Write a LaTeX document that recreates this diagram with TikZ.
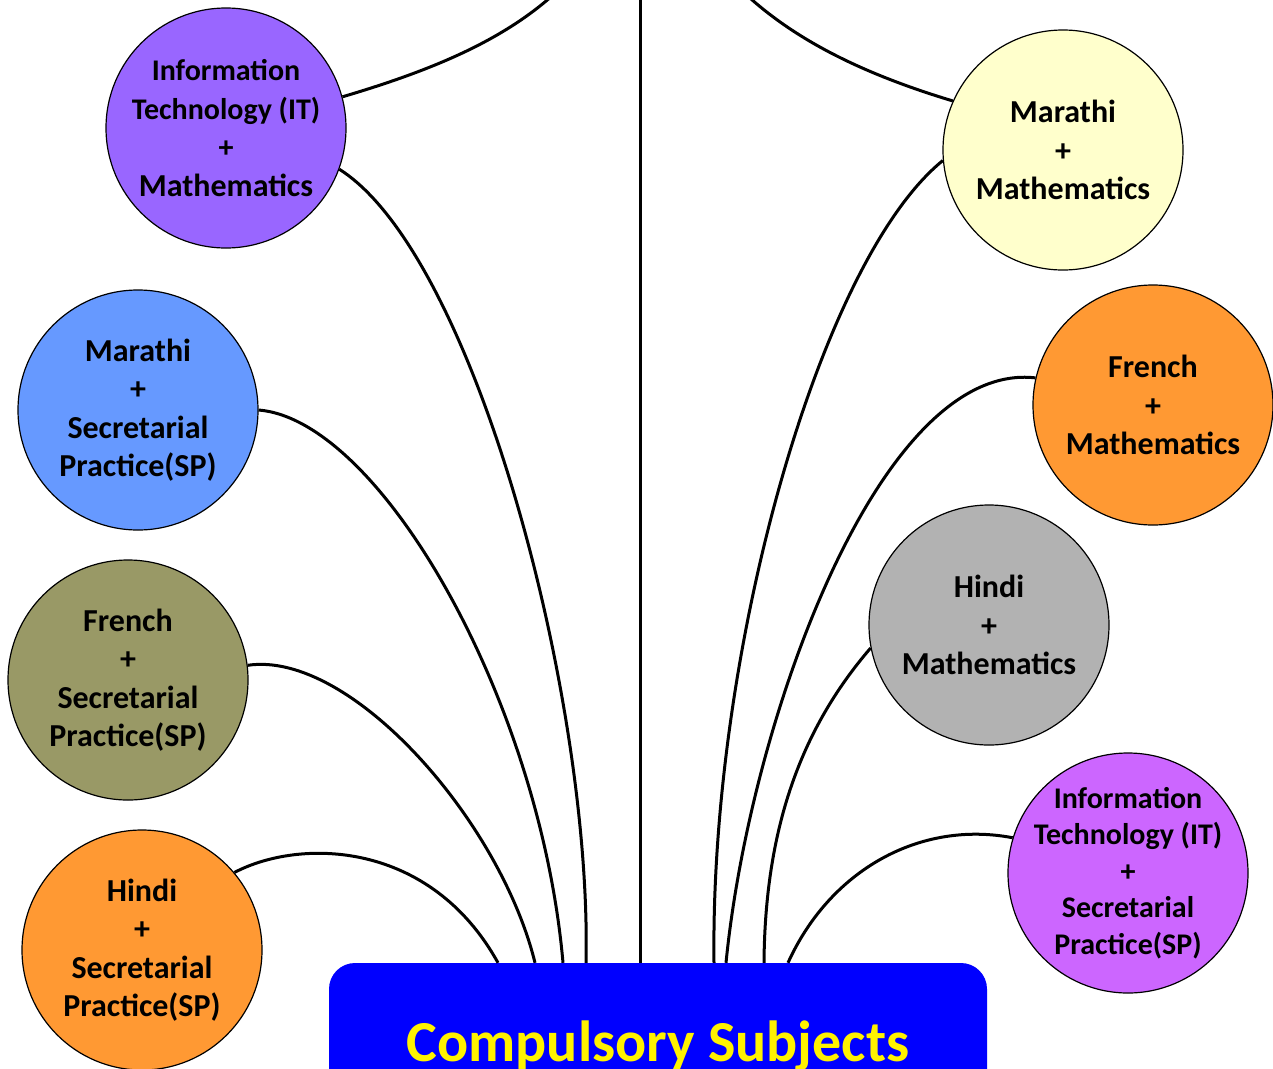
\documentclass[tikz,border=0pt]{standalone}
\usepackage{fontspec}
\setmainfont{Carlito}
\definecolor{itpurple}{HTML}{9966FF}
\definecolor{spblue}{HTML}{6699FF}
\definecolor{olive}{HTML}{999966}
\definecolor{orangey}{HTML}{FF9933}
\definecolor{paleyellow}{HTML}{FFFFCC}
\definecolor{midgray}{HTML}{B2B2B2}
\definecolor{violet}{HTML}{CC66FF}
\tikzset{
  combo/.style={circle, draw=black, line width=1.2pt, minimum size=240pt,
    inner sep=-30pt, align=center, font=\fontsize{32}{38.5}\selectfont\bfseries},
  compbox/.style={rectangle, rounded corners=26pt, fill={rgb,255:red,0;green,0;blue,255},
    minimum width=658pt, minimum height=166pt, text=yellow,
    font=\fontsize{58}{62}\selectfont\bfseries},
  link/.style={line width=3pt}
}
\begin{document}
\begin{tikzpicture}[x=1pt,y=-1pt]
  \useasboundingbox (0,0) rectangle (1273,1068);
  \clip (0,0) rectangle (1273,1068);

  \node[compbox] (comp) at (658,1046) {Compulsory Subjects};

  \node[combo, fill=itpurple, font=\fontsize{30}{38.5}\selectfont\bfseries] (itmath) at (226,128)
    {Information\\Technology (IT)\\+\\{\fontsize{32}{38.5}\selectfont Mathematics}};
  \node[combo, fill=spblue] (marsp) at (138,410) {Marathi\\+\\Secretarial\\Practice(SP)};
  \node[combo, fill=olive] (fresp) at (128,680) {French\\+\\Secretarial\\Practice(SP)};
  \node[combo, fill=orangey] (hinsp) at (142,950) {Hindi\\+\\Secretarial\\Practice(SP)};

  \node[combo, fill=paleyellow] (marmath) at (1063,150) {Marathi\\+\\Mathematics};
  \node[combo, fill=orangey] (fremath) at (1153,405) {French\\+\\Mathematics};
  \node[combo, fill=midgray] (hinmath) at (989,625) {Hindi\\+\\Mathematics};
  \node[combo, fill=violet, font=\fontsize{30}{36.5}\selectfont\bfseries] (itsp) at (1128,873)
    {Information\\Technology (IT)\\+\\Secretarial\\Practice(SP)};

  \coordinate (topleft) at (578,-30);
  \coordinate (topmid) at (640,-30);
  \coordinate (topright) at (722,-30);

  \draw[link] (topmid) -- ([xshift=-18pt]comp.north);
  \draw[link] (itmath.15) .. controls (450,65) and (525,30) .. (topleft);
  \draw[link] (marmath.156) .. controls (850,70) and (775,30) .. (topright);

  \draw[link] (itmath.-20) .. controls (475,255) and (592,700) .. ([xshift=-72pt]comp.north);
  \draw[link] (marsp.0) .. controls (380,420) and (540,700) .. ([xshift=-95pt]comp.north);
  \draw[link] (fresp.7) .. controls (350,650) and (500,820) .. ([xshift=-123pt]comp.north);
  \draw[link] (hinsp.40) .. controls (300,838) and (430,840) .. ([xshift=-160pt]comp.north);

  \draw[link] (marmath.185) .. controls (820,260) and (710,650) .. ([xshift=56pt]comp.north);
  \draw[link] (fremath.167) .. controls (880,360) and (750,720) .. ([xshift=68pt]comp.north);
  \draw[link] (hinmath.191) .. controls (800,730) and (765,830) .. ([xshift=106pt]comp.north);
  \draw[link] (itsp.163) .. controls (920,820) and (830,870) .. ([xshift=130pt]comp.north);
\end{tikzpicture}
\end{document}
